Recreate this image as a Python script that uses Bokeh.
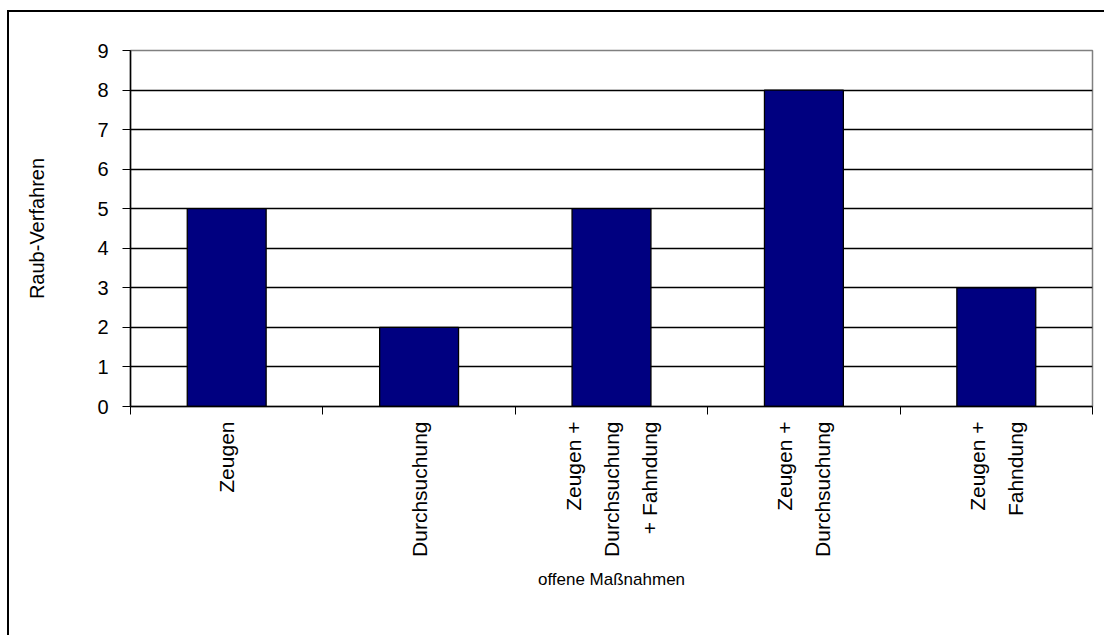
import math
from bokeh.plotting import figure
from bokeh.models import FixedTicker, Range1d, LinearAxis
from bokeh.embed import file_html
from bokeh.resources import INLINE

categories = ["Zeugen", "Durchsuchung", "Zeugen +\nDurchsuchung\n+ Fahndung",
              "Zeugen +\nDurchsuchung", "Zeugen +\nFahndung"]
values = [5, 2, 5, 8, 3]
y_ticks = [0, 1, 2, 3, 4, 5, 6, 7, 8, 9]

FONT = "Liberation Sans"

centers = [i + 0.5 for i in range(len(categories))]

p = figure(width=1097, height=625, output_backend="svg", toolbar_location=None,
           x_range=Range1d(0, len(categories)), y_range=Range1d(0, 9),
           min_border_left=121, min_border_top=38, min_border_right=14,
           min_border_bottom=231, x_axis_location=None, y_axis_location=None)
p.styles = {"border-top": "2px solid black", "border-left": "2px solid black",
            "position": "relative", "top": "10px", "left": "7px"}

p.vbar(x=centers, top=values, width=0.41, bottom=0,
       fill_color="#000080", line_color="black", line_width=1.3)

# axes
xaxis = LinearAxis(ticker=FixedTicker(ticks=centers, minor_ticks=list(range(len(categories) + 1))))
xaxis.major_label_overrides = {c: lab for c, lab in zip(centers, categories)}
xaxis.major_label_orientation = math.pi / 2
xaxis.major_tick_out = 0
xaxis.major_tick_in = 0
xaxis.minor_tick_out = 8
xaxis.minor_tick_in = 0
xaxis.minor_tick_line_color = "black"
xaxis.major_label_standoff = 7
xaxis.major_label_text_font = FONT
xaxis.major_label_text_font_size = "21px"
xaxis.major_label_text_line_height = 1.65
xaxis.major_label_text_color = "black"
xaxis.axis_label = "offene Maßnahmen"
xaxis.axis_label_text_font = FONT
xaxis.axis_label_text_font_size = "17px"
xaxis.axis_label_text_font_style = "normal"
xaxis.axis_label_text_color = "black"
xaxis.axis_label_standoff = 10
xaxis.axis_line_color = "black"
xaxis.axis_line_width = 1.5
p.add_layout(xaxis, "below")

yaxis = LinearAxis(ticker=FixedTicker(ticks=y_ticks))
yaxis.major_tick_out = 8
yaxis.major_tick_in = 0
yaxis.minor_tick_out = 0
yaxis.minor_tick_in = 0
yaxis.major_tick_line_color = "black"
yaxis.major_label_standoff = 14
yaxis.major_label_text_font = FONT
yaxis.major_label_text_font_size = "20px"
yaxis.major_label_text_color = "black"
yaxis.axis_label = "Raub-Verfahren"
yaxis.axis_label_text_font = FONT
yaxis.axis_label_text_font_size = "20px"
yaxis.axis_label_text_font_style = "normal"
yaxis.axis_label_text_color = "black"
yaxis.axis_label_standoff = 46
yaxis.axis_line_color = "black"
yaxis.axis_line_width = 1.5
p.add_layout(yaxis, "left")

p.xgrid.visible = False
p.ygrid.ticker = FixedTicker(ticks=y_ticks[1:-1])
p.ygrid.grid_line_color = "black"
p.ygrid.grid_line_width = 1.3

p.outline_line_color = "#808080"
p.outline_line_width = 1.5
p.background_fill_color = "white"
p.border_fill_color = "white"

open("out.html", "w").write(file_html(p, INLINE))
